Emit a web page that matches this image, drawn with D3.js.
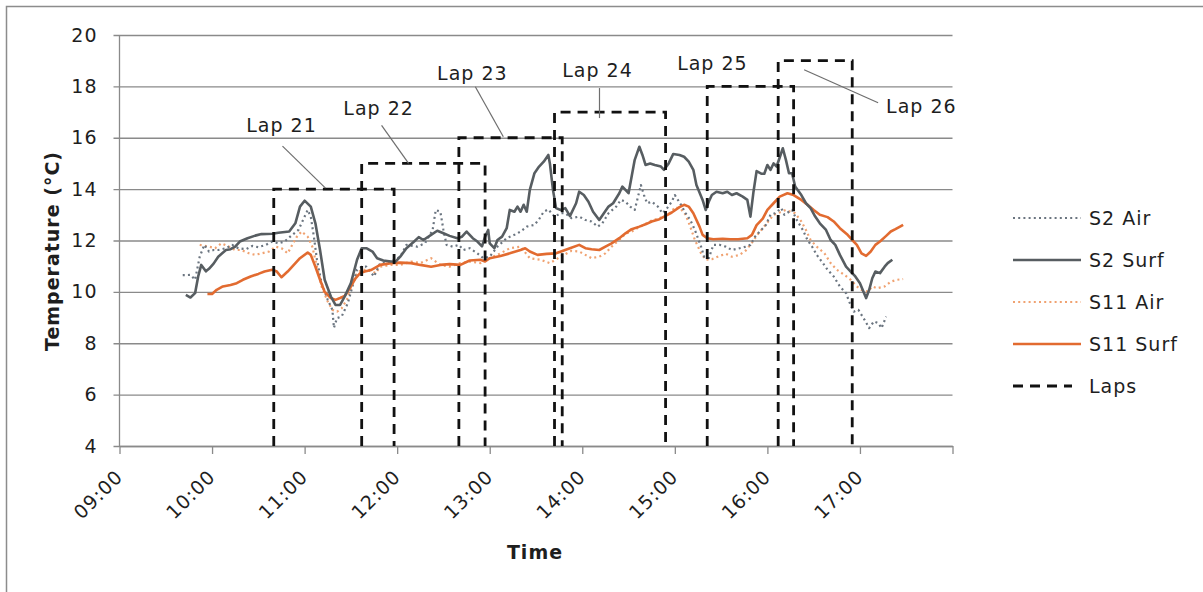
<!DOCTYPE html>
<html>
<head>
<meta charset="utf-8">
<script src="https://cdn.jsdelivr.net/npm/d3@7"></script>
<style>
  body { margin: 0; background: #fff; }
  text { font-family: "DejaVu Sans", Verdana, sans-serif; fill: #1e1e1e; letter-spacing: 1px; }
</style>
</head>
<body>
<svg id="chart" width="1203" height="592"></svg>
<script>
// ---- data -------------------------------------------------------------
const tempTicks = [4, 6, 8, 10, 12, 14, 16, 18, 20];
const hourTicks = ["09:00","10:00","11:00","12:00","13:00","14:00","15:00","16:00","17:00","18:00"];
const hourLabels = ["09:00","10:00","11:00","12:00","13:00","14:00","15:00","16:00","17:00"];
const seriesNames = ["S2 Air", "S2 Surf", "S11 Air", "S11 Surf", "Laps"];

// [time, temperature °C]
const s2Air = [
  ["09:41",10.65],["09:46",10.66],["09:49",10.47],["09:52",11.37],["09:55",11.83],["09:58",11.57],
  ["10:01",11.63],["10:04",11.63],["10:09",11.7],["10:13",11.83],["10:17",11.7],["10:22",11.66],
  ["10:26",11.79],["10:30",11.74],["10:35",11.83],["10:39",11.96],["10:43",11.89],["10:47",11.96],
  ["10:52",12.22],["10:56",12.41],["10:59",12.8],["11:02",13.19],["11:04",12.93],["11:06",12.15],
  ["11:08",11.25],["11:11",10.34],["11:15",9.69],["11:18",9.3],["11:19",8.6],["11:21",8.98],
  ["11:24",9.04],["11:28",9.56],["11:31",10.21],["11:34",10.86],["11:37",10.98],["11:40",10.98],
  ["11:45",10.6],["11:49",11.12],["11:56",11.18],["12:02",11.37],["12:06",11.83],["12:13",11.76],
  ["12:18",11.89],["12:23",12.41],["12:25",13.19],["12:28",13.12],["12:30",12.41],["12:32",11.83],
  ["12:36",11.76],["12:40",11.83],["12:43",11.63],["12:47",11.7],["12:52",11.5],["12:56",11.31],
  ["13:00",11.37],["13:05",11.76],["13:11",12.09],["13:16",12.22],["13:20",12.35],["13:24",12.54],
  ["13:29",12.61],["13:32",12.83],["13:35",13.12],["13:38",13.21],["13:42",12.93],["13:46",13.06],
  ["13:49",13.06],["13:53",12.87],["13:58",12.93],["14:02",12.8],["14:06",12.74],["14:10",12.54],
  ["14:13",12.67],["14:17",13.06],["14:22",13.32],["14:25",13.58],["14:28",13.51],["14:31",13.32],
  ["14:34",13.19],["14:38",14.16],["14:40",13.77],["14:42",13.45],["14:45",13.51],["14:49",13.32],
  ["14:52",13.06],["14:55",13.26],["14:58",13.51],["15:00",13.77],["15:04",13.39],["15:07",13.06],
  ["15:10",12.8],["15:13",12.41],["15:17",11.76],["15:19",11.37],["15:22",11.31],["15:25",11.83],
  ["15:29",11.83],["15:33",11.76],["15:37",11.63],["15:42",11.7],["15:46",11.76],["15:49",11.83],
  ["15:52",12.15],["15:56",12.41],["15:59",12.6],["16:02",13.0],["16:05",13.06],["16:09",13.26],
  ["16:11",13.0],["16:14",13.12],["16:16",13.19],["16:19",12.8],["16:23",12.41],["16:26",12.02],
  ["16:29",11.76],["16:32",11.44],["16:36",11.12],["16:39",10.86],["16:43",10.6],["16:47",10.21],
  ["16:51",9.95],["16:53",9.62],["16:56",9.23],["16:59",9.3],["17:03",8.91],["17:06",8.59],
  ["17:09",8.85],["17:12",8.78],["17:14",8.59],["17:17",9.04]
];

const s2Surf = [
  ["09:43",9.88],["09:46",9.78],["09:49",9.95],["09:51",10.6],["09:53",11.05],["09:56",10.8],
  ["09:58",10.9],["10:01",11.1],["10:04",11.37],["10:09",11.63],["10:12",11.66],["10:15",11.76],
  ["10:18",11.96],["10:23",12.09],["10:28",12.19],["10:32",12.25],["10:39",12.26],["10:43",12.3],
  ["10:50",12.35],["10:54",12.67],["10:57",13.32],["11:00",13.55],["11:04",13.32],["11:07",12.67],
  ["11:10",11.63],["11:13",10.47],["11:17",9.82],["11:20",9.49],["11:23",9.49],["11:26",9.82],
  ["11:30",10.34],["11:34",11.25],["11:37",11.7],["11:40",11.7],["11:44",11.57],["11:47",11.31],
  ["11:51",11.22],["11:56",11.18],["11:59",11.18],["12:02",11.37],["12:06",11.7],["12:11",11.96],
  ["12:14",12.13],["12:17",12.02],["12:22",12.22],["12:26",12.38],["12:30",12.28],["12:34",12.18],
  ["12:39",12.09],["12:42",12.15],["12:45",12.35],["12:49",12.09],["12:52",11.96],["12:55",11.77],
  ["12:57",12.15],["12:59",12.41],["13:00",11.89],["13:03",11.7],["13:05",12.02],["13:08",12.15],
  ["13:11",12.48],["13:13",13.19],["13:16",13.12],["13:18",13.32],["13:20",13.12],["13:22",13.39],
  ["13:24",13.12],["13:26",13.97],["13:29",14.62],["13:32",14.88],["13:35",15.07],["13:38",15.33],
  ["13:39",15.0],["13:41",13.97],["13:43",13.26],["13:46",13.19],["13:49",13.26],["13:52",12.95],
  ["13:56",13.45],["13:58",13.9],["14:01",13.77],["14:04",13.51],["14:07",13.12],["14:11",12.8],
  ["14:14",13.06],["14:17",13.32],["14:20",13.45],["14:24",13.84],["14:26",14.1],["14:28",13.97],
  ["14:30",13.84],["14:32",14.49],["14:34",15.14],["14:37",15.65],["14:39",15.33],["14:41",14.94],
  ["14:44",15.0],["14:47",14.94],["14:51",14.88],["14:53",14.75],["14:56",15.0],["14:59",15.37],
  ["15:03",15.33],["15:06",15.26],["15:09",15.07],["15:12",14.75],["15:14",14.16],["15:18",13.58],
  ["15:20",13.19],["15:22",13.51],["15:24",13.77],["15:27",13.9],["15:31",13.84],["15:34",13.9],
  ["15:37",13.77],["15:40",13.84],["15:44",13.71],["15:47",13.58],["15:49",12.93],["15:51",13.9],
  ["15:53",14.7],["15:56",14.6],["15:58",14.6],["16:00",14.94],["16:02",14.75],["16:04",15.0],
  ["16:06",14.88],["16:10",15.59],["16:12",15.14],["16:14",14.62],["16:16",14.62],["16:18",14.1],
  ["16:22",13.77],["16:25",13.45],["16:28",13.26],["16:31",12.93],["16:34",12.67],["16:38",12.41],
  ["16:41",12.02],["16:44",11.83],["16:47",11.44],["16:51",10.98],["16:54",10.79],["16:57",10.6],
  ["17:00",10.34],["17:04",9.76],["17:06",10.08],["17:08",10.53],["17:10",10.79],["17:13",10.73],
  ["17:16",10.98],["17:18",11.12],["17:21",11.25]
];

const s11Air = [
  ["09:52",11.83],["09:58",11.76],["10:02",11.7],["10:06",11.89],["10:11",11.76],["10:15",11.63],
  ["10:19",11.63],["10:24",11.5],["10:28",11.44],["10:32",11.5],["10:37",11.57],["10:41",11.76],
  ["10:45",11.7],["10:49",11.5],["10:52",11.83],["10:55",12.15],["10:58",12.35],["11:02",12.15],
  ["11:05",11.76],["11:08",10.98],["11:11",10.21],["11:15",9.62],["11:18",9.3],["11:21",9.23],
  ["11:24",9.36],["11:28",9.76],["11:31",10.34],["11:34",10.73],["11:37",10.86],["11:42",10.86],
  ["11:46",10.73],["11:49",10.98],["11:56",11.05],["12:02",11.05],["12:09",11.18],["12:15",11.12],
  ["12:22",11.31],["12:28",11.05],["12:34",10.98],["12:41",11.12],["12:47",11.18],["12:54",11.12],
  ["13:00",11.31],["13:07",11.5],["13:13",11.7],["13:20",11.76],["13:26",11.31],["13:33",11.25],
  ["13:39",11.12],["13:46",11.37],["13:53",11.6],["13:58",11.57],["14:02",11.44],["14:06",11.31],
  ["14:11",11.37],["14:15",11.5],["14:19",11.76],["14:24",12.02],["14:28",12.26],["14:32",12.35],
  ["14:37",12.52],["14:41",12.65],["14:45",12.78],["14:50",12.87],["14:54",12.96],["14:58",13.12],
  ["15:00",13.3],["15:04",13.22],["15:07",13.0],["15:10",12.54],["15:13",12.02],["15:17",11.5],
  ["15:20",11.25],["15:24",11.27],["15:29",11.4],["15:33",11.48],["15:37",11.37],["15:42",11.44],
  ["15:46",11.61],["15:50",11.92],["15:54",12.26],["16:00",12.7],["16:04",13.0],["16:09",13.12],
  ["16:12",13.19],["16:15",13.12],["16:18",13.06],["16:22",12.74],["16:25",12.41],["16:28",12.02],
  ["16:32",11.76],["16:37",11.5],["16:41",11.12],["16:45",10.86],["16:50",10.66],["16:54",10.47],
  ["16:58",10.21],["17:01",10.08],["17:05",10.01],["17:08",10.21],["17:11",10.14],["17:16",10.21],
  ["17:20",10.4],["17:24",10.47],["17:28",10.5]
];

const s11Surf = [
  ["09:57",9.92],["10:00",9.92],["10:03",10.08],["10:07",10.21],["10:12",10.27],["10:16",10.34],
  ["10:20",10.47],["10:25",10.6],["10:30",10.7],["10:34",10.79],["10:39",10.86],["10:42",10.79],
  ["10:45",10.57],["10:49",10.79],["10:53",11.05],["10:57",11.31],["11:02",11.53],["11:04",11.44],
  ["11:07",10.98],["11:10",10.47],["11:13",10.0],["11:17",9.76],["11:20",9.69],["11:23",9.76],
  ["11:26",9.84],["11:30",10.21],["11:33",10.53],["11:36",10.73],["11:39",10.79],["11:43",10.85],
  ["11:49",11.05],["11:56",11.12],["12:02",11.14],["12:09",11.12],["12:15",11.05],["12:22",10.98],
  ["12:28",11.05],["12:34",11.08],["12:41",11.05],["12:47",11.22],["12:54",11.25],["12:57",11.18],
  ["13:00",11.31],["13:07",11.4],["13:13",11.5],["13:20",11.63],["13:23",11.7],["13:26",11.57],
  ["13:31",11.44],["13:37",11.48],["13:43",11.5],["13:48",11.61],["13:52",11.7],["13:58",11.83],
  ["14:02",11.7],["14:06",11.66],["14:11",11.63],["14:15",11.76],["14:19",11.89],["14:24",12.09],
  ["14:28",12.28],["14:32",12.44],["14:37",12.54],["14:41",12.63],["14:45",12.74],["14:50",12.83],
  ["14:54",12.96],["14:58",13.09],["15:03",13.3],["15:06",13.39],["15:09",13.32],["15:12",13.06],
  ["15:16",12.54],["15:18",12.22],["15:21",12.09],["15:25",12.05],["15:31",12.07],["15:36",12.05],
  ["15:41",12.05],["15:47",12.09],["15:50",12.22],["15:53",12.6],["15:57",12.85],["16:00",13.19],
  ["16:04",13.45],["16:08",13.71],["16:13",13.84],["16:17",13.77],["16:22",13.58],["16:26",13.39],
  ["16:30",13.19],["16:34",13.0],["16:39",12.91],["16:43",12.74],["16:47",12.48],["16:52",12.22],
  ["16:55",12.02],["16:58",11.83],["17:01",11.5],["17:04",11.4],["17:07",11.57],["17:10",11.83],
  ["17:13",11.96],["17:17",12.18],["17:20",12.35],["17:23",12.44],["17:26",12.54],["17:28",12.61]
];

const lapNames = ["Lap 21", "Lap 22", "Lap 23", "Lap 24", "Lap 25", "Lap 26"];
const lapStart = ["10:40", "11:37", "12:40", "13:42", "15:21", "16:07"];
const lapEnd   = ["11:58", "12:57", "13:47", "14:54", "16:17", "16:55"];
const lapTop   = [14, 15, 16, 17, 18, 19];
const lapFloor = 4;

// ---- layout -------------------------------------------------------------
const svg = d3.select("#chart");
const W = 1203, H = 592;
const plot = { left: 119.5, right: 952.5, top: 35, bottom: 446 };

const parseTime = d3.timeParse("%H:%M");
const x = d3.scaleTime()
  .domain([parseTime(hourTicks[0]), parseTime(hourTicks[hourTicks.length - 1])])
  .range([plot.left, plot.right]);
const y = d3.scaleLinear()
  .domain([tempTicks[0], tempTicks[tempTicks.length - 1]])
  .range([plot.bottom, plot.top]);

const gridColor = "#8a8a8a";
const fontSize = 19;
const fontFamily = '"DejaVu Sans", Verdana, sans-serif';

// outer frame
svg.append("rect")
  .attr("x", 6.5).attr("y", 6.5)
  .attr("width", W + 20).attr("height", H + 20)
  .attr("fill", "none").attr("stroke", "#8c8c8c").attr("stroke-width", 1.5);

// horizontal gridlines with left tick stubs
const yAxis = d3.axisLeft(y).tickValues(tempTicks)
  .tickSizeOuter(0).tickFormat(d3.format("d"));
const gy = svg.append("g").attr("transform", `translate(${plot.left - 6},0)`).call(yAxis);
gy.select(".domain").remove();
gy.selectAll(".tick line").attr("stroke", gridColor).attr("stroke-width", 1.3)
  .attr("x1", 0).attr("x2", plot.right - plot.left + 6);
gy.selectAll(".tick text")
  .attr("x", -16)
  .style("font-family", fontFamily)
  .style("font-size", fontSize + "px").attr("fill", "#1e1e1e");

// vertical axis line
svg.append("line")
  .attr("x1", plot.left).attr("x2", plot.left)
  .attr("y1", y(tempTicks[tempTicks.length - 1])).attr("y2", plot.bottom)
  .attr("stroke", gridColor).attr("stroke-width", 1.3);

// time axis
const xAxis = d3.axisBottom(x)
  .tickValues(hourTicks.map(parseTime))
  .tickSize(8).tickSizeOuter(0)
  .tickFormat(d => {
    const s = d3.timeFormat("%H:%M")(d);
    return hourLabels.includes(s) ? s : "";
  });
const gx = svg.append("g").attr("transform", `translate(0,${plot.bottom})`).call(xAxis);
gx.select(".domain").attr("stroke", gridColor).attr("stroke-width", 1.3);
gx.selectAll(".tick line").attr("stroke", gridColor).attr("stroke-width", 1.3);
gx.selectAll(".tick text")
  .style("font-family", fontFamily)
  .style("font-size", fontSize + "px").attr("fill", "#1e1e1e")
  .attr("text-anchor", "end")
  .attr("dy", 0).attr("y", 0)
  .attr("transform", "translate(4,32) rotate(-45)");

// axis titles
svg.append("text")
  .attr("transform", `translate(59,251) rotate(-90)`)
  .attr("text-anchor", "middle")
  .style("font-size", "19px").style("font-weight", "bold")
  .text("Temperature (°C)");
svg.append("text")
  .attr("x", 535).attr("y", 559)
  .attr("text-anchor", "middle")
  .style("font-size", "19px").style("font-weight", "bold")
  .text("Time");

// ---- series -------------------------------------------------------------
const line = d3.line()
  .x(d => x(parseTime(d[0])))
  .y(d => y(d[1]));

const styles = {
  "S2 Air":   { color: "#6b7580", width: 2.2, dash: "2 3.2" },
  "S2 Surf":  { color: "#575d61", width: 2.6, dash: null },
  "S11 Air":  { color: "#f0a271", width: 2.2, dash: "2 3.2" },
  "S11 Surf": { color: "#e26b30", width: 2.6, dash: null },
  "Laps":     { color: "#111111", width: 2.8, dash: "10 7" }
};
const seriesData = { "S2 Air": s2Air, "S2 Surf": s2Surf, "S11 Air": s11Air, "S11 Surf": s11Surf };

const gSeries = svg.append("g").attr("fill", "none")
  .attr("stroke-linejoin", "round");
["S11 Air", "S2 Air", "S11 Surf", "S2 Surf"].forEach(name => {
  const st = styles[name];
  gSeries.append("path")
    .datum(seriesData[name])
    .attr("d", line)
    .attr("stroke", st.color)
    .attr("stroke-width", st.width)
    .attr("stroke-dasharray", st.dash);
});

// ---- lap windows ----------------------------------------------------------
const laps = lapNames.map((name, i) => ({
  name, t0: parseTime(lapStart[i]), t1: parseTime(lapEnd[i]), top: lapTop[i]
}));
const gLaps = svg.append("g").attr("fill", "none");
laps.forEach(l => {
  gLaps.append("path")
    .attr("d", d3.line()([
      [x(l.t0), y(lapFloor)], [x(l.t0), y(l.top)],
      [x(l.t1), y(l.top)], [x(l.t1), y(lapFloor)]
    ]))
    .attr("stroke", styles.Laps.color)
    .attr("stroke-width", styles.Laps.width)
    .attr("stroke-dasharray", styles.Laps.dash);
});

// lap callouts: point on the top edge, leader offset, text offset
const callouts = [
  { frac: 0.43,  edgeDy: -1, lead: [-43, -42], text: [-1, -14], anchor: "middle" },
  { frac: 0.38,  edgeDy: 0,  lead: [-27, -38], text: [-3, -10], anchor: "middle" },
  { frac: 0.43,  edgeDy: -1, lead: [-28, -50], text: [-3, -7],  anchor: "middle" },
  { frac: 0.405, edgeDy: 6,  lead: [0, -30],   text: [-2, -11], anchor: "middle" },
  { frac: 0.06,  edgeDy: 0,  lead: null,       text: [0, -16],  anchor: "middle" },
  { frac: 0.35,  edgeDy: 9,  lead: [74, 33],   text: [8, 10],   anchor: "start" }
];
const gCall = svg.append("g");
laps.forEach((l, i) => {
  const c = callouts[i];
  const px = x(l.t0) + c.frac * (x(l.t1) - x(l.t0));
  const py = y(l.top) + c.edgeDy;
  let ex = px, ey = py;
  if (c.lead) {
    ex = px + c.lead[0]; ey = py + c.lead[1];
    gCall.append("line")
      .attr("x1", px).attr("y1", py).attr("x2", ex).attr("y2", ey)
      .attr("stroke", "#6e6e6e").attr("stroke-width", 1.2);
  }
  gCall.append("text")
    .attr("x", ex + c.text[0]).attr("y", ey + c.text[1])
    .attr("text-anchor", c.anchor)
    .style("font-size", fontSize + "px")
    .text(l.name);
});

// ---- legend ---------------------------------------------------------------
const legendY = d3.scalePoint().domain(seriesNames).range([218, 386]);
const gLeg = svg.append("g");
seriesNames.forEach(name => {
  const st = styles[name];
  const ly = legendY(name);
  gLeg.append("line")
    .attr("x1", 1013).attr("x2", name === "Laps" ? 1072 : 1081)
    .attr("y1", ly).attr("y2", ly)
    .attr("stroke", st.color)
    .attr("stroke-width", st.width)
    .attr("stroke-dasharray", st.dash);
  gLeg.append("text")
    .attr("x", 1089).attr("y", ly + 7)
    .style("font-size", fontSize + "px")
    .text(name);
});
</script>
</body>
</html>
